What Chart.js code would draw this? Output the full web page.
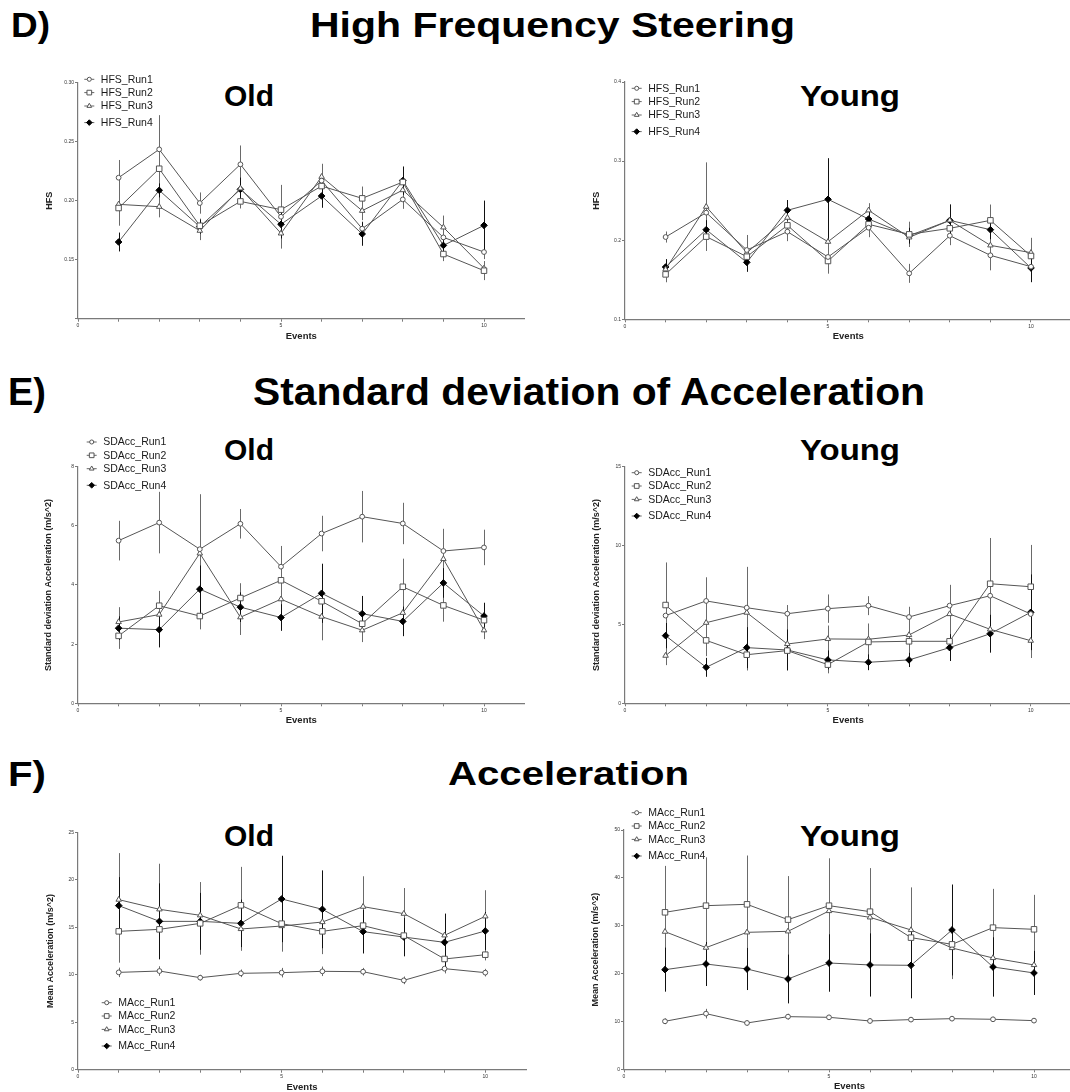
<!DOCTYPE html>
<html>
<head>
<meta charset="utf-8">
<script src="https://cdn.jsdelivr.net/npm/chart.js"></script>
<style>
  html, body { margin: 0; padding: 0; background: #fff; }
  body { width: 1070px; height: 1092px; position: relative; overflow: hidden; font-family: "Liberation Sans", Arial, sans-serif; }
  .txt { position: absolute; font-weight: bold; line-height: 1; white-space: nowrap; transform-origin: 0 0; color: #000; }
  canvas { position: absolute; }
</style>
</head>
<body>
<div class="txt" data-x="11" data-base="37" data-size="35" data-w="39">D)</div>
<div class="txt" data-x="310" data-base="37" data-size="35" data-w="485">High Frequency Steering</div>
<div class="txt" data-x="8" data-base="405" data-size="38" data-w="38">E)</div>
<div class="txt" data-x="253" data-base="405" data-size="38" data-w="672">Standard deviation of Acceleration</div>
<div class="txt" data-x="8" data-base="786" data-size="35" data-w="38">F)</div>
<div class="txt" data-x="448" data-base="785" data-size="34" data-w="241">Acceleration</div>

<div class="txt" data-x="224" data-base="106.7" data-size="30" data-w="50">Old</div>
<div class="txt" data-x="800" data-base="106.7" data-size="30" data-w="100">Young</div>
<div class="txt" data-x="224" data-base="460.5" data-size="30" data-w="50">Old</div>
<div class="txt" data-x="800" data-base="460.5" data-size="30" data-w="100">Young</div>
<div class="txt" data-x="224" data-base="846" data-size="30" data-w="50">Old</div>
<div class="txt" data-x="800" data-base="846" data-size="30" data-w="100">Young</div>

<canvas id="hfsOld"></canvas>
<canvas id="hfsYoung"></canvas>
<canvas id="sdOld"></canvas>
<canvas id="sdYoung"></canvas>
<canvas id="maOld"></canvas>
<canvas id="maYoung"></canvas>

<script>
const events = [1, 2, 3, 4, 5, 6, 7, 8, 9, 10];
const runs = ["Run1", "Run2", "Run3", "Run4"];

// D) high frequency steering
const hfsOld1 = [0.2195, 0.2435, 0.198, 0.2308, 0.1864, 0.217, 0.1763, 0.2011, 0.1689, 0.1565];
const hfsOld2 = [0.1938, 0.2271, 0.1788, 0.1994, 0.1924, 0.2124, 0.202, 0.2158, 0.1548, 0.1407];
const hfsOld3 = [0.1969, 0.1949, 0.1746, 0.2105, 0.1723, 0.2203, 0.1915, 0.209, 0.1774, 0.1427];
const hfsOld4 = [0.165, 0.2088, 0.178, 0.2096, 0.18, 0.204, 0.1718, 0.217, 0.1621, 0.1791];
const hfsOld1Err = [0.015, 0.029, 0.009, 0.016, 0.027, 0.006, 0.006, 0.008, 0.006, 0.006];
const hfsOld2Err = [0.015, 0.012, 0.006, 0.006, 0.006, 0.006, 0.01, 0.006, 0.006, 0.008];
const hfsOld3Err = [0.007, 0.009, 0.008, 0.008, 0.011, 0.011, 0.008, 0.008, 0.01, 0.006];
const hfsOld4Err = [0.008, 0.006, 0.006, 0.01, 0.012, 0.01, 0.01, 0.012, 0.006, 0.021];

const hfsYoung1 = [0.204, 0.2348, 0.1876, 0.2108, 0.1788, 0.2158, 0.1581, 0.2057, 0.1809, 0.1665];
const hfsYoung2 = [0.1568, 0.2045, 0.1792, 0.2188, 0.1737, 0.2201, 0.2074, 0.215, 0.2251, 0.18];
const hfsYoung3 = [0.1632, 0.2424, 0.1842, 0.2285, 0.1981, 0.2378, 0.2036, 0.2251, 0.1935, 0.1842];
const hfsYoung4 = [0.1661, 0.2133, 0.172, 0.2378, 0.2517, 0.2268, 0.2057, 0.2251, 0.2133, 0.1649];
const hfsYoung1Err = [0.007, 0.012, 0.019, 0.012, 0.01, 0.012, 0.012, 0.012, 0.019, 0.01];
const hfsYoung2Err = [0.01, 0.014, 0.01, 0.01, 0.016, 0.01, 0.016, 0.012, 0.02, 0.023];
const hfsYoung3Err = [0.008, 0.056, 0.01, 0.01, 0.012, 0.009, 0.01, 0.02, 0.012, 0.01];
const hfsYoung4Err = [0.01, 0.012, 0.012, 0.013, 0.052, 0.01, 0.01, 0.02, 0.012, 0.018];

// E) standard deviation of acceleration
const sdOld1 = [5.5, 6.11, 5.21, 6.07, 4.62, 5.74, 6.31, 6.08, 5.15, 5.27];
const sdOld2 = [2.28, 3.3, 2.95, 3.56, 4.16, 3.45, 2.69, 3.94, 3.31, 2.81];
const sdOld3 = [2.75, 3.0, 5.07, 2.91, 3.52, 2.93, 2.47, 3.06, 4.88, 2.47];
const sdOld4 = [2.54, 2.49, 3.86, 3.25, 2.9, 3.72, 3.03, 2.77, 4.07, 2.95];
const sdOld1Err = [0.67, 1.04, 0.6, 0.5, 0.7, 0.6, 0.87, 0.7, 0.75, 0.6];
const sdOld2Err = [0.44, 0.5, 0.45, 0.5, 0.6, 0.5, 0.45, 0.95, 0.55, 0.4];
const sdOld3Err = [0.5, 0.6, 2.0, 0.6, 0.5, 0.8, 0.4, 0.5, 0.7, 0.3];
const sdOld4Err = [0.4, 0.6, 0.8, 0.5, 0.45, 1.0, 0.6, 0.5, 0.5, 0.45];

const sdYoung1 = [5.56, 6.49, 6.06, 5.68, 6.0, 6.19, 5.47, 6.19, 6.82, 5.66];
const sdYoung2 = [6.23, 3.99, 3.08, 3.34, 2.45, 3.89, 3.93, 3.93, 7.58, 7.39];
const sdYoung3 = [3.02, 5.11, 5.75, 3.76, 4.08, 4.06, 4.33, 5.66, 4.69, 3.97];
const sdYoung4 = [4.29, 2.28, 3.53, 3.38, 2.75, 2.6, 2.75, 3.53, 4.41, 5.77];
const sdYoung1Err = [0.8, 1.5, 1.0, 0.55, 0.9, 0.6, 0.65, 0.8, 1.2, 0.8];
const sdYoung2Err = [2.7, 1.0, 1.0, 1.1, 0.55, 1.0, 0.8, 1.0, 2.9, 2.65];
const sdYoung3Err = [0.6, 1.2, 2.9, 1.4, 0.85, 1.0, 0.8, 1.85, 1.4, 1.1];
const sdYoung4Err = [0.8, 0.6, 1.3, 1.3, 0.6, 0.5, 0.45, 0.85, 1.2, 2.4];

// F) mean acceleration
const maOld1 = [10.25, 10.39, 9.69, 10.15, 10.22, 10.36, 10.32, 9.41, 10.64, 10.22];
const maOld2 = [14.57, 14.78, 15.41, 17.31, 15.38, 14.57, 15.17, 14.12, 11.66, 12.11];
const maOld3 = [17.91, 16.89, 16.26, 14.82, 15.13, 15.55, 17.17, 16.43, 14.15, 16.15];
const maOld4 = [17.28, 15.62, 15.62, 15.41, 17.98, 16.89, 14.54, 13.97, 13.41, 14.61];
const maOld1Err = [0.5, 0.5, 0.3, 0.4, 0.5, 0.5, 0.4, 0.4, 0.5, 0.4];
const maOld2Err = [3.3, 3.0, 3.3, 4.05, 2.7, 2.4, 2.2, 2.2, 0.8, 0.6];
const maOld3Err = [4.9, 4.8, 3.5, 2.3, 2.7, 2.5, 3.2, 2.7, 2.3, 2.75];
const maOld4Err = [3.0, 4.0, 3.0, 2.5, 4.55, 4.1, 2.3, 2.0, 3.0, 2.0];

const maYoung1 = [10.03, 11.63, 9.68, 11.0, 10.86, 10.1, 10.38, 10.58, 10.45, 10.17];
const maYoung2 = [32.8, 34.19, 34.47, 31.27, 34.19, 32.94, 27.51, 26.11, 29.6, 29.25];
const maYoung3 = [28.76, 25.42, 28.62, 28.83, 33.08, 31.75, 29.11, 25.35, 23.26, 21.8];
const maYoung4 = [20.82, 22.0, 20.96, 18.87, 22.21, 21.8, 21.73, 29.11, 21.38, 20.13];
const maYoung1Err = [0.6, 1.0, 0.5, 0.6, 0.5, 0.5, 0.5, 0.5, 0.5, 0.5];
const maYoung2Err = [9.7, 10.1, 10.2, 9.1, 9.9, 9.1, 6.0, 5.0, 8.1, 7.2];
const maYoung3Err = [7.0, 6.5, 6.0, 7.0, 7.0, 8.0, 8.9, 6.5, 6.0, 5.0];
const maYoung4Err = [4.6, 4.6, 4.4, 5.1, 6.0, 6.6, 6.9, 9.5, 6.2, 4.6];

const FONT = "'Liberation Sans', Arial, sans-serif";
Chart.defaults.font.family = FONT;

// header / title text placed by baseline, stretched to the measured width
document.querySelectorAll(".txt").forEach((el) => {
  const size = +el.dataset.size;
  el.style.fontSize = size + "px";
  el.style.left = el.dataset.x + "px";
  el.style.top = +el.dataset.base - size * 0.8465 + "px";
  const w = el.getBoundingClientRect().width;
  el.style.transform = `scaleX(${+el.dataset.w / w})`;
});

const markerStyles = [
  { pointStyle: "circle", radius: 2.4, fill: "#fff", stroke: "#555", err: "#6a6a6a" },
  { pointStyle: "rect", radius: 3.9, fill: "#fff", stroke: "#555", err: "#6a6a6a" },
  { pointStyle: "triangle", radius: 3.2, fill: "#fff", stroke: "#555", err: "#6a6a6a" },
  { pointStyle: "rectRot", radius: 3.3, fill: "#000", stroke: "#000", err: "#111" },
];

const drawMarker = (ctx, style, x, y, r) => {
  ctx.beginPath();
  if (style === "circle") {
    ctx.arc(x, y, r, 0, Math.PI * 2);
  } else if (style === "rect") {
    const s = r * Math.SQRT1_2;
    ctx.rect(x - s, y - s, 2 * s, 2 * s);
  } else if (style === "triangle") {
    ctx.moveTo(x, y - r);
    ctx.lineTo(x + r * 0.866, y + r * 0.5);
    ctx.lineTo(x - r * 0.866, y + r * 0.5);
    ctx.closePath();
  } else {
    ctx.moveTo(x, y - r);
    ctx.lineTo(x + r, y);
    ctx.lineTo(x, y + r);
    ctx.lineTo(x - r, y);
    ctx.closePath();
  }
  ctx.fill();
  ctx.stroke();
};

const errorBars = {
  id: "errorBars",
  beforeDatasetsDraw(chart) {
    const { ctx } = chart;
    const xs = chart.scales.x;
    const ys = chart.scales.y;
    ctx.save();
    ctx.lineWidth = 1;
    chart.data.datasets.forEach((ds) => {
      ctx.strokeStyle = ds.errorColor;
      ds.data.forEach((pt, i) => {
        const e = ds.errors[i];
        const px = Math.round(xs.getPixelForValue(pt.x)) + 0.5;
        ctx.beginPath();
        ctx.moveTo(px, ys.getPixelForValue(pt.y + e));
        ctx.lineTo(px, ys.getPixelForValue(pt.y - e));
        ctx.stroke();
      });
    });
    ctx.restore();
  },
};

const runLegend = {
  id: "runLegend",
  afterDraw(chart, args, opts) {
    const { ctx } = chart;
    const offsets = [0, 13.3, 26.7, 43.3];
    ctx.save();
    chart.data.datasets.forEach((ds, i) => {
      const m = markerStyles[i];
      const x = opts.x;
      const y = opts.y + offsets[i];
      ctx.strokeStyle = "#666";
      ctx.lineWidth = 1;
      ctx.beginPath();
      ctx.moveTo(x - 5, y);
      ctx.lineTo(x + 5, y);
      ctx.stroke();
      ctx.fillStyle = m.fill;
      ctx.strokeStyle = m.stroke;
      drawMarker(ctx, m.pointStyle, x, y, m.radius * 0.85);
      ctx.fillStyle = "#1a1a1a";
      ctx.font = "10.5px " + FONT;
      ctx.textBaseline = "middle";
      ctx.textAlign = "left";
      ctx.fillText(ds.label, x + 11.5, y + 0.5);
    });
    ctx.restore();
  },
};

const panels = [
  {
    id: "hfsOld", prefix: "HFS_", yTitle: "HFS",
    series: [hfsOld1, hfsOld2, hfsOld3, hfsOld4],
    errors: [hfsOld1Err, hfsOld2Err, hfsOld3Err, hfsOld4Err],
    yMin: 0.1, yMax: 0.3, yStep: 0.05, decimals: 2, hideMin: true,
    canvas: { x: 0, y: 60, w: 535, h: 295 },
    area: { left: 78, top: 82.7, right: 524.6, bottom: 318.7 },
    yTitleX: 49.3, legend: { x: 89.3, y: 79.3 },
  },
  {
    id: "hfsYoung", prefix: "HFS_", yTitle: "HFS",
    series: [hfsYoung1, hfsYoung2, hfsYoung3, hfsYoung4],
    errors: [hfsYoung1Err, hfsYoung2Err, hfsYoung3Err, hfsYoung4Err],
    yMin: 0.1, yMax: 0.4, yStep: 0.1, decimals: 1, hideMin: false,
    canvas: { x: 535, y: 60, w: 545, h: 295 },
    area: { left: 625, top: 82, right: 1071.6, bottom: 319.3 },
    yTitleX: 596.7, legend: { x: 636.7, y: 88.3 },
  },
  {
    id: "sdOld", prefix: "SDAcc_", yTitle: "Standard deviation Acceleration (m/s^2)",
    series: [sdOld1, sdOld2, sdOld3, sdOld4],
    errors: [sdOld1Err, sdOld2Err, sdOld3Err, sdOld4Err],
    yMin: 0, yMax: 8, yStep: 2, decimals: 0, hideMin: false,
    canvas: { x: 0, y: 425, w: 535, h: 310 },
    area: { left: 78, top: 466.7, right: 524.6, bottom: 703.3 },
    yTitleX: 49, legend: { x: 91.7, y: 442 },
  },
  {
    id: "sdYoung", prefix: "SDAcc_", yTitle: "Standard deviation Acceleration (m/s^2)",
    series: [sdYoung1, sdYoung2, sdYoung3, sdYoung4],
    errors: [sdYoung1Err, sdYoung2Err, sdYoung3Err, sdYoung4Err],
    yMin: 0, yMax: 15, yStep: 5, decimals: 0, hideMin: false,
    canvas: { x: 535, y: 425, w: 545, h: 310 },
    area: { left: 625, top: 466.7, right: 1071.3, bottom: 703.3 },
    yTitleX: 596.7, legend: { x: 636.7, y: 472.7 },
  },
  {
    id: "maOld", prefix: "MAcc_", yTitle: "Mean Acceleration (m/s^2)",
    series: [maOld1, maOld2, maOld3, maOld4],
    errors: [maOld1Err, maOld2Err, maOld3Err, maOld4Err],
    yMin: 0, yMax: 25, yStep: 5, decimals: 0, hideMin: false,
    canvas: { x: 0, y: 800, w: 535, h: 300 },
    area: { left: 78, top: 832.3, right: 526, bottom: 1069.7 },
    yTitleX: 51, legend: { x: 106.7, y: 1002.7 },
  },
  {
    id: "maYoung", prefix: "MAcc_", yTitle: "Mean Acceleration (m/s^2)",
    series: [maYoung1, maYoung2, maYoung3, maYoung4],
    errors: [maYoung1Err, maYoung2Err, maYoung3Err, maYoung4Err],
    yMin: 0, yMax: 50, yStep: 10, decimals: 0, hideMin: false,
    canvas: { x: 535, y: 800, w: 545, h: 300 },
    area: { left: 624, top: 830, right: 1077, bottom: 1069.3 },
    yTitleX: 596, legend: { x: 636.7, y: 812.7 },
  },
];

const X_SCALE_H = 26;
const AXIS = "#7a7a7a";

const renderPanel = (p) => {
  const el = document.getElementById(p.id);
  const c = p.canvas;
  el.width = c.w;
  el.height = c.h;
  el.style.left = c.x + "px";
  el.style.top = c.y + "px";

  const yWidth = p.area.left - c.x;

  const datasets = p.series.map((vals, i) => {
    const m = markerStyles[i];
    return {
      label: p.prefix + runs[i],
      data: events.map((e, j) => ({ x: e, y: vals[j] })),
      errors: p.errors[i],
      errorColor: m.err,
      borderColor: "#555",
      borderWidth: 1,
      tension: 0,
      fill: false,
      pointStyle: m.pointStyle,
      pointRadius: m.radius,
      pointBackgroundColor: m.fill,
      pointBorderColor: m.stroke,
      pointBorderWidth: 1,
    };
  });

  new Chart(el, {
    type: "line",
    data: { datasets },
    plugins: [errorBars, runLegend],
    options: {
      responsive: false,
      animation: false,
      devicePixelRatio: 1,
      layout: {
        padding: {
          left: 0,
          top: p.area.top - c.y,
          right: c.x + c.w - p.area.right,
          bottom: c.y + c.h - p.area.bottom - X_SCALE_H,
        },
      },
      plugins: {
        legend: { display: false },
        tooltip: { enabled: false },
        runLegend: { x: p.legend.x - c.x, y: p.legend.y - c.y },
      },
      scales: {
        x: {
          type: "linear",
          min: 0,
          max: 11,
          ticks: {
            stepSize: 1,
            autoSkip: false,
            maxRotation: 0,
            padding: 1,
            color: "#333",
            font: { size: 5 },
            callback: (v) => (v % 5 === 0 && v <= 10 ? String(v) : ""),
          },
          grid: {
            drawOnChartArea: false,
            tickLength: 3,
            color: (ctx) => (ctx.tick && ctx.tick.value > 10 ? "rgba(0,0,0,0)" : AXIS),
          },
          border: { color: AXIS, width: 1.2 },
          title: {
            display: true,
            text: "Events",
            color: "#222",
            font: { size: 9.5, weight: "bold" },
            padding: { top: 0, bottom: 3 },
          },
          afterFit: (s) => {
            s.height = X_SCALE_H;
          },
        },
        y: {
          min: p.yMin,
          max: p.yMax,
          ticks: {
            stepSize: p.yStep,
            padding: 1,
            color: "#333",
            font: { size: 5 },
            callback: (v, i) => (p.hideMin && i === 0 ? "" : Number(v).toFixed(p.decimals)),
          },
          grid: { drawOnChartArea: false, tickLength: 3, color: AXIS },
          border: { color: AXIS, width: 1.2 },
          title: {
            display: true,
            text: p.yTitle,
            color: "#222",
            font: { size: 9, weight: "bold" },
            padding: { top: p.yTitleX - c.x - 5.4, bottom: 0 },
          },
          afterFit: (s) => {
            s.width = yWidth;
          },
        },
      },
    },
  });
};

panels.forEach(renderPanel);
</script>
</body>
</html>
